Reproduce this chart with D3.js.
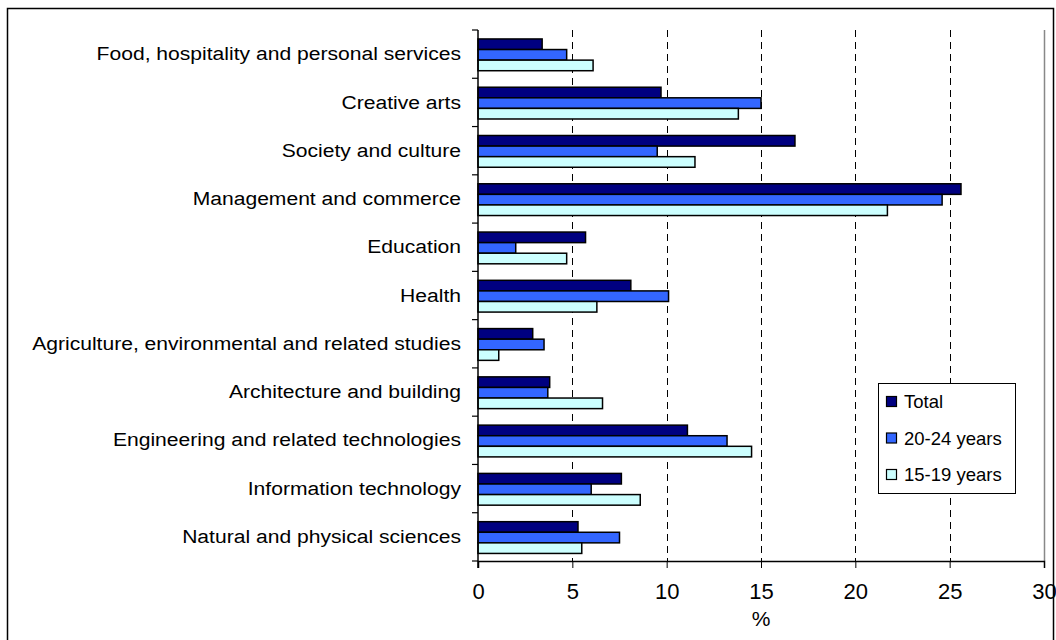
<!DOCTYPE html>
<html lang="en">
  <head>
    <meta charset="utf-8">
    <title>Fields of study</title>
    <style>
      body { margin: 0; background: #fff; }
      svg { display: block; font-family: "Liberation Sans", Arial, sans-serif; }
    </style>
  </head>
  <body>
    <svg width="1056" height="640"></svg>
  <script src="https://cdn.jsdelivr.net/npm/d3@7"></script>
  <script>

    const categories = [
      "Food, hospitality and personal services",
      "Creative arts",
      "Society and culture",
      "Management and commerce",
      "Education",
      "Health",
      "Agriculture, environmental and related studies",
      "Architecture and building",
      "Engineering and related technologies",
      "Information technology",
      "Natural and physical sciences"
    ]
    const series = ["Total", "20-24 years", "15-19 years"]
    const total   = [3.4, 9.7, 16.8, 25.6, 5.7, 8.1, 2.9, 3.8, 11.1, 7.6, 5.3]
    const age2024 = [4.7, 15.0, 9.5, 24.6, 2.0, 10.1, 3.5, 3.7, 13.2, 6.0, 7.5]
    const age1519 = [6.1, 13.8, 11.5, 21.7, 4.7, 6.3, 1.1, 6.6, 14.5, 8.6, 5.5]
    const xTicks = [0, 5, 10, 15, 20, 25, 30]

    const colors = ["#000080", "#3366ff", "#ccffff"]
    const values = [total, age2024, age1519]

    const svg = d3.select("svg"),
          plot = {top: 30, bottom: 561, left: 478, right: 1044}

    const x = d3.scaleLinear().domain([0, 30]).range([plot.left, plot.right]),
          y = d3.scaleBand().domain(categories).range([plot.top, plot.bottom]),
          yi = d3.scaleBand().domain(series).range([0.7, y.bandwidth() + 0.7]).paddingOuter(0.78)

    // outer frame
    svg.append("rect")
      .attr("x", 7.5).attr("y", 8.5)
      .attr("width", 1046).attr("height", 660)
      .attr("fill", "none").attr("stroke", "#000").attr("stroke-width", 1.5)

    // grid
    svg.append("g").selectAll("line")
      .data(xTicks.filter(d => d > 0 && d < 30))
      .join("line")
        .attr("x1", d => Math.round(x(d)) + 0.5).attr("x2", d => Math.round(x(d)) + 0.5)
        .attr("y1", plot.top).attr("y2", plot.bottom)
        .attr("stroke", "#000").attr("stroke-dasharray", "7,5")

    svg.append("line")
      .attr("x1", plot.right + 0.5).attr("x2", plot.right + 0.5)
      .attr("y1", plot.top).attr("y2", plot.bottom)
      .attr("stroke", "#888").attr("stroke-width", 1.5)

    // bars
    const rows = categories.map((c, i) => ({c, vals: series.map((s, j) => ({s, v: values[j][i], color: colors[j]}))}))

    svg.append("g").selectAll("g")
      .data(rows)
      .join("g")
        .attr("transform", d => `translate(0,${y(d.c)})`)
      .selectAll("rect")
      .data(d => d.vals)
      .join("rect")
        .attr("x", x(0))
        .attr("y", d => yi(d.s))
        .attr("width", d => x(d.v) - x(0))
        .attr("height", yi.bandwidth())
        .attr("fill", d => d.color)
        .attr("stroke", "#000")
        .attr("stroke-width", 1.5)

    // axes
    const xAxis = svg.append("g")
      .attr("transform", `translate(0,${plot.bottom})`)
      .call(d3.axisBottom(x).tickValues(xTicks).tickSize(7).tickPadding(15))
    xAxis.select(".domain").attr("stroke-width", 1.5)
    xAxis.selectAll("text").style("font-size", "22px").attr("fill", "#000")

    // category labels look a little wider than Liberation Sans, so stretch them
    const stretch = 1.11
    const yAxis = svg.append("g")
      .attr("transform", `translate(${plot.left},0)`)
      .call(d3.axisLeft(y).tickSize(0).tickPadding(17))
    yAxis.select(".domain").attr("stroke-width", 1.5).attr("d", `M0,${plot.top}V${plot.bottom + 7}`)
    yAxis.selectAll("text")
      .style("font-size", "19px")
      .attr("x", -17 / stretch)
      .attr("transform", `scale(${stretch},1)`)
      .attr("fill", "#000")

    svg.append("g").selectAll("line")
      .data(categories.map(c => y(c)).concat([plot.bottom]))
      .join("line")
        .attr("x1", plot.left - 6).attr("x2", plot.left)
        .attr("y1", d => d).attr("y2", d => d)
        .attr("stroke", "#000").attr("stroke-width", 1.2)

    svg.append("text")
      .attr("x", x(15)).attr("y", 626)
      .attr("text-anchor", "middle")
      .style("font-size", "21px")
      .text("%")

    // legend
    const legend = svg.append("g").attr("transform", "translate(878,383)")
    legend.append("rect")
      .attr("x", 0.5).attr("y", 0.5).attr("width", 137).attr("height", 110)
      .attr("fill", "#fff").attr("stroke", "#000")
    const item = legend.selectAll("g.item")
      .data(series)
      .join("g")
        .attr("class", "item")
        .attr("transform", (d, i) => `translate(0,${18.5 + i * 36.5})`)
    item.append("rect")
      .attr("x", 8.5).attr("y", -5).attr("width", 10).attr("height", 10)
      .attr("fill", (d, i) => colors[i]).attr("stroke", "#000").attr("stroke-width", 1.2)
    item.append("text")
      .attr("x", 26).attr("dy", "0.36em")
      .style("font-size", "18.5px")
      .text(d => d)

  </script>
  </body>
</html>
